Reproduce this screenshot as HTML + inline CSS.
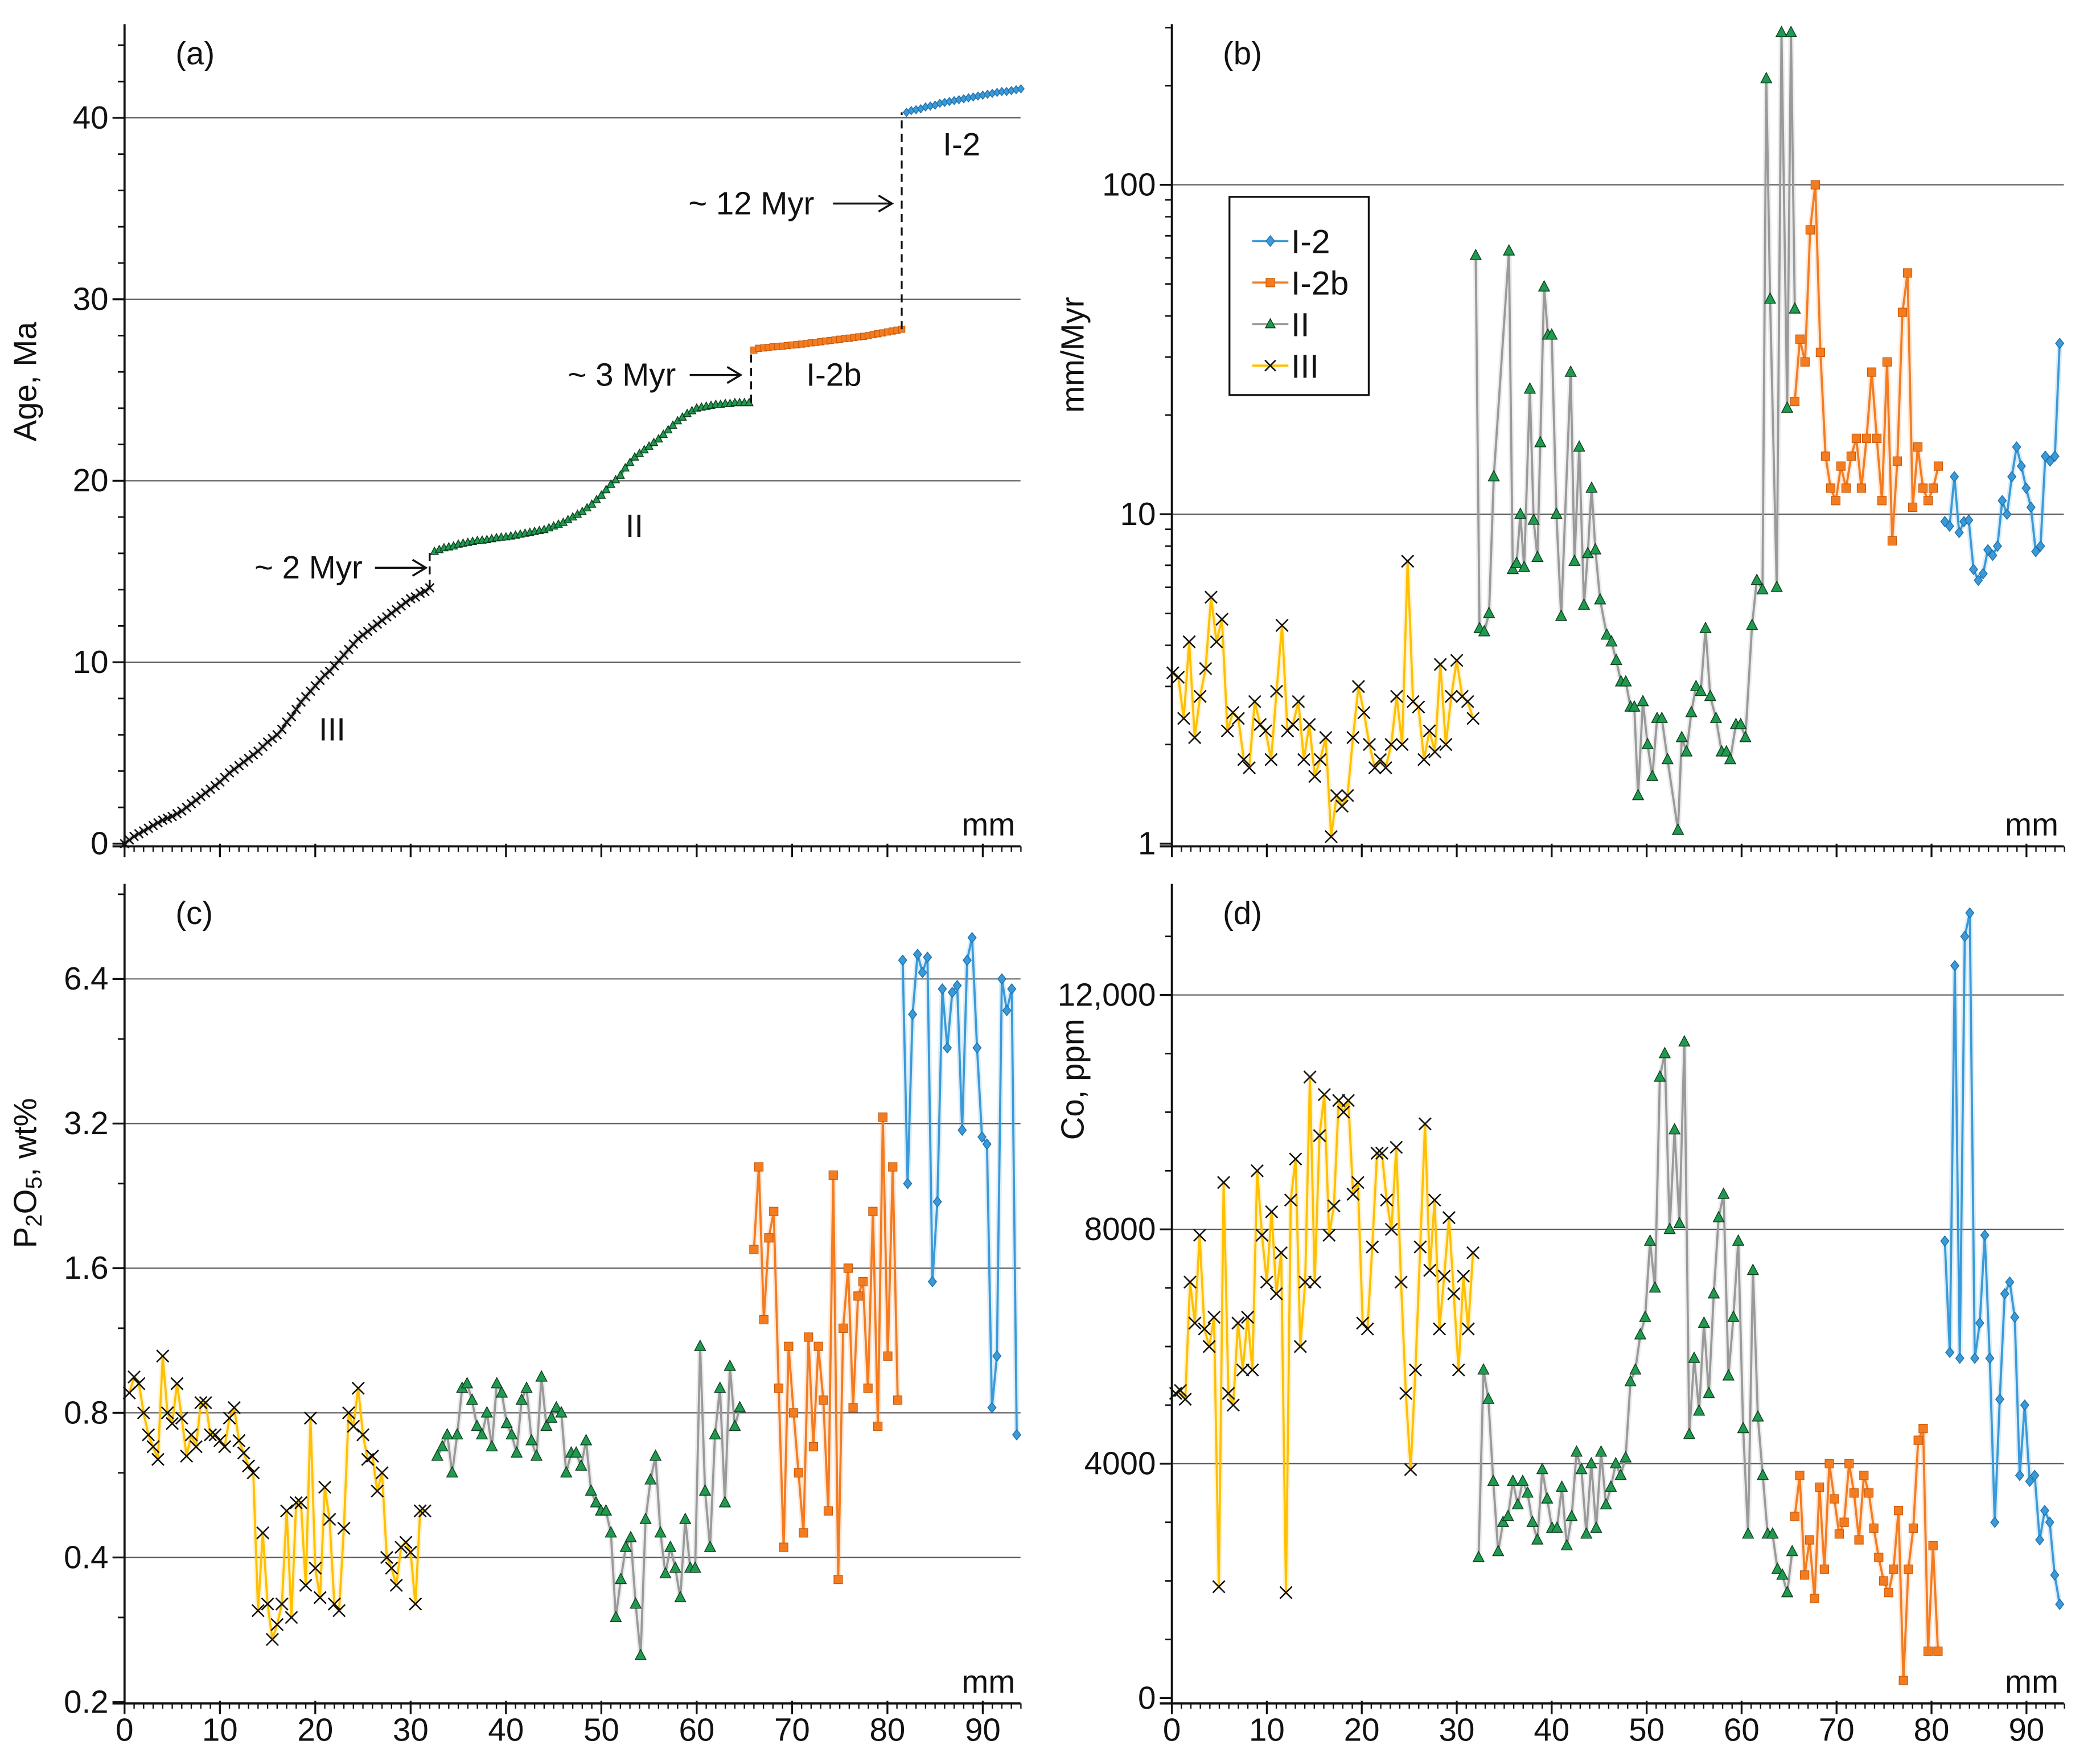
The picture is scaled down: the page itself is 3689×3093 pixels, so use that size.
<!DOCTYPE html>
<html><head><meta charset="utf-8"><style>
html,body{margin:0;padding:0;background:#fff}
svg{display:block}
text{font-family:"Liberation Sans",Arial,sans-serif;fill:#111}
</style></head><body>
<svg id="fig" xmlns="http://www.w3.org/2000/svg" width="3689" height="3093" viewBox="0 0 1568 1315" preserveAspectRatio="none"></svg>
<script>
// ---------- data ----------
// panel (a) age vs mm
const aIII_x0 = 0, aIII_dx = 0.5;
const aIII = [0,0.2,0.4,0.55,0.7,0.85,1.0,1.15,1.3,1.4,1.5,1.65,1.8,2.0,2.2,2.4,2.6,2.8,3.0,3.2,3.4,3.65,3.9,4.1,4.3,4.5,4.7,4.9,5.1,5.35,5.6,5.8,6.0,6.3,6.7,7.0,7.4,7.8,8.1,8.4,8.7,9.0,9.3,9.5,9.8,10.1,10.4,10.7,11.0,11.3,11.5,11.7,11.9,12.1,12.3,12.5,12.7,12.9,13.1,13.3,13.5,13.6,13.8,13.9,14.1];
const aII_x0 = 32.5, aII_dx = 0.5;
const aII = [16.1,16.2,16.3,16.35,16.4,16.5,16.55,16.6,16.65,16.7,16.72,16.75,16.8,16.85,16.88,16.9,16.95,17.0,17.05,17.1,17.15,17.2,17.25,17.3,17.4,17.5,17.6,17.7,17.85,18.0,18.15,18.3,18.5,18.7,18.95,19.2,19.5,19.8,20.05,20.3,20.7,21.0,21.3,21.5,21.7,21.9,22.1,22.3,22.55,22.8,23.05,23.3,23.5,23.7,23.85,24.0,24.05,24.1,24.15,24.2,24.2,24.25,24.25,24.3,24.3,24.3,24.3];
const aI2b_x0 = 66, aI2b_dx = 0.5;
const aI2b = [27.2,27.3,27.32,27.35,27.38,27.4,27.42,27.45,27.48,27.5,27.53,27.56,27.6,27.63,27.66,27.7,27.73,27.76,27.8,27.83,27.86,27.9,27.93,27.96,28.0,28.05,28.1,28.15,28.2,28.25,28.3,28.35];
const aI2_x0 = 82, aI2_dx = 0.5;
const aI2 = [40.3,40.4,40.45,40.5,40.6,40.65,40.7,40.8,40.85,40.9,40.95,41.0,41.05,41.1,41.15,41.2,41.25,41.3,41.35,41.4,41.45,41.45,41.5,41.55,41.6];
const hiatusMm = [32, 65.7, 81.5];
const hiatusFrom = [14.1, 24.3, 28.35];
const hiatusTo = [16.1, 27.2, 40.3];

// panel (b) growth rate mm/Myr
const bIII_x0 = 0.1, bIII_dx = 0.575;
const bIII = [3.3,3.2,2.4,4.1,2.1,2.8,3.4,5.6,4.1,4.8,2.2,2.5,2.4,1.8,1.7,2.7,2.3,2.2,1.8,2.9,4.6,2.2,2.3,2.7,1.8,2.3,1.6,1.8,2.1,1.05,1.4,1.3,1.4,2.1,3.0,2.5,2.0,1.7,1.8,1.7,2.0,2.8,2.0,7.2,2.7,2.6,1.8,2.2,1.9,3.5,2.0,2.8,3.6,2.8,2.7,2.4];
const bII_x = [32.0,32.4,32.9,33.4,33.9,35.5,35.9,36.3,36.7,37.1,37.7,38.1,38.5,38.8,39.2,39.6,40.0,40.5,41.0,42.0,42.4,42.9,43.4,43.8,44.2,44.6,45.1,45.8,46.3,46.8,47.3,47.8,48.3,48.7,49.1,49.6,50.1,50.6,51.1,51.6,52.2,53.3,53.7,54.2,54.7,55.2,55.7,56.2,56.7,57.3,57.9,58.4,58.8,59.4,59.9,60.4,61.1,61.6,62.2,62.6,63.0,63.7,64.2,64.8,65.2,65.6];
const bII = [61,4.5,4.4,5.0,13,63,6.8,7.1,10,6.9,24,9.6,7.4,16.5,49,35,35,10,4.9,27,7.2,16,5.3,7.6,12,7.8,5.5,4.3,4.1,3.6,3.1,3.1,2.6,2.6,1.4,2.7,2.0,1.6,2.4,2.4,1.8,1.1,2.1,1.9,2.5,3.0,2.9,4.5,2.8,2.4,1.9,1.9,1.8,2.3,2.3,2.1,4.6,6.3,5.9,210,45,6,290,21,290,42];
const bI2b_x0 = 65.6, bI2b_dx = 0.54;
const bI2b = [22,34,29,73,100,31,15,12,11,14,12,15,17,12,17,27,17,11,29,8.3,14.5,41,54,10.5,16,12,11,12,14];
const bI2_x0 = 81.4, bI2_dx = 0.504;
const bI2 = [9.5,9.2,13,8.8,9.5,9.6,6.8,6.3,6.6,7.8,7.5,8,11,10,13,16,14,12,10.5,7.7,8,15,14.5,15,33];

// panel (c) P2O5 wt%
const cIII_x0 = 0.5, cIII_dx = 0.5;
const cIII = [0.88,0.95,0.92,0.8,0.72,0.68,0.64,1.05,0.8,0.76,0.92,0.78,0.65,0.72,0.68,0.84,0.84,0.72,0.72,0.7,0.68,0.78,0.82,0.7,0.66,0.62,0.6,0.31,0.45,0.32,0.27,0.29,0.32,0.5,0.3,0.52,0.52,0.35,0.78,0.38,0.33,0.56,0.48,0.32,0.31,0.46,0.8,0.75,0.9,0.72,0.64,0.65,0.55,0.6,0.4,0.38,0.35,0.42,0.43,0.41,0.32,0.5,0.5];
const cII_x0 = 32.8, cII_dx = 0.52;
const cII = [0.65,0.68,0.72,0.6,0.72,0.9,0.92,0.85,0.75,0.72,0.8,0.68,0.92,0.88,0.76,0.72,0.66,0.85,0.9,0.7,0.65,0.95,0.75,0.78,0.82,0.8,0.6,0.66,0.66,0.62,0.7,0.55,0.52,0.5,0.5,0.45,0.3,0.36,0.42,0.44,0.32,0.25,0.48,0.58,0.65,0.45,0.37,0.42,0.38,0.33,0.48,0.38,0.38,1.1,0.55,0.42,0.72,0.9,0.52,1.0,0.75,0.82];
const cI2b_x0 = 66, cI2b_dx = 0.52;
const cI2b = [1.75,2.6,1.25,1.85,2.1,0.9,0.42,1.1,0.8,0.6,0.45,1.15,0.68,1.1,0.85,0.5,2.5,0.36,1.2,1.6,0.82,1.4,1.5,0.9,2.1,0.75,3.3,1.05,2.6,0.85];
const cI2_x0 = 81.6, cI2_dx = 0.52;
const cI2 = [7.0,2.4,5.4,7.2,6.6,7.1,1.5,2.2,6.1,4.6,6.0,6.2,3.1,7.0,7.8,4.6,3.0,2.9,0.82,1.05,6.4,5.5,6.1,0.72];

// panel (d) Co ppm
const dIII_x0 = 0.4, dIII_dx = 0.505;
const dIII = [5200,5250,5100,7100,6400,7900,6300,6000,6500,1900,8800,5200,5000,6400,5600,6500,5600,9000,7900,7100,8300,6900,7600,1800,8500,9200,6000,7100,10600,7100,9600,10300,7900,8400,10200,10000,10200,8600,8800,6400,6300,7700,9300,9300,8500,8000,9400,7100,5200,3900,5600,7700,9800,7300,8500,6300,7200,8200,6900,5600,7200,6300,7600];
const dII_x0 = 32.3, dII_dx = 0.516;
const dII = [2400,5600,5100,3700,2500,3000,3100,3700,3300,3700,3500,3000,2700,3900,3400,2900,2900,3600,2600,3100,4200,3900,2800,4000,2900,4200,3300,3600,4000,3800,4100,5400,5600,6200,6500,7800,7000,10600,11000,8000,9700,8100,11200,4500,5800,4900,6400,5200,6900,8200,8600,5500,6500,7800,4600,2800,7300,4800,3800,2800,2800,2200,2100,1800,2500];
const dI2b_x0 = 65.6, dI2b_dx = 0.52;
const dI2b = [3100,3800,2100,2700,1700,3600,2200,4000,3400,2800,3000,4000,3500,2700,3800,3500,2900,2400,2000,1800,2200,3200,300,2200,2900,4400,4600,800,2600,800];
const dI2_x0 = 81.4, dI2_dx = 0.526;
const dI2 = [7800,5900,12500,5800,13000,13400,5800,6400,7900,5800,3000,5100,6900,7100,6500,3800,5000,3700,3800,2700,3200,3000,2100,1600];

const xTickLabels = ["0","10","20","30","40","50","60","70","80","90"];
const aTicks = [0,10,20,30,40];
const bTicks = [1,10,100];
const cTicks = [0.2,0.4,0.8,1.6,3.2,6.4];
const cTickLabels = ["0.2","0.4","0.8","1.6","3.2","6.4"];
const dTicks = [0,4000,8000,12000];
const dTickLabels = ["0","4000","8000","12,000"];
const legendLabels = ["I-2","I-2b","II","III"];

// ---------- drawing ----------
const NS = "http://www.w3.org/2000/svg";
const svg = document.getElementById('fig');
function el(tag, attrs, parent){
  const e = document.createElementNS(NS, tag);
  for (const k in attrs) e.setAttribute(k, attrs[k]);
  (parent||svg).appendChild(e);
  return e;
}
function seq(x0, dx, n){ const r=[]; for(let i=0;i<n;i++) r.push(x0+i*dx); return r; }

const STY = {
  I2:  {line:"#3A9AD9", mk:"diamond", fill:"#3A9AD9", stroke:"#1f6fa8"},
  I2b: {line:"#F47C20", mk:"square", fill:"#F47C20", stroke:"#c85a0a"},
  II:  {line:"#9a9a9a", mk:"tri", fill:"#1f9a4e", stroke:"#0d3d1f"},
  III: {line:"#FFC000", mk:"x", fill:"none", stroke:"#111"}
};

function marker(g, kind, x, y, s, st){
  let m;
  if (kind==="diamond") m = el('polygon',{points:`${x},${y-s} ${x+s*0.8},${y} ${x},${y+s} ${x-s*0.8},${y}`,fill:st.fill,stroke:st.stroke,'stroke-width':0.6},g);
  else if (kind==="square") m = el('rect',{x:x-s*0.8,y:y-s*0.8,width:s*1.6,height:s*1.6,fill:st.fill,stroke:st.stroke,'stroke-width':0.5},g);
  else if (kind==="tri") m = el('polygon',{points:`${x},${y-s} ${x+s*0.9},${y+s*0.7} ${x-s*0.9},${y+s*0.7}`,fill:st.fill,stroke:st.stroke,'stroke-width':0.6},g);
  else m = el('path',{d:`M${x-s},${y-s}L${x+s},${y+s}M${x-s},${y+s}L${x+s},${y-s}`,stroke:st.stroke,'stroke-width':1.1,fill:'none'},g);
  
  
}

function series(g, xs, ys, sx, sy, st, s, name, lineCol){
  const sg = el('g',{},g);
  
  
  const pts = xs.map((x,i)=>sx(x).toFixed(2)+','+sy(ys[i]).toFixed(2)).join(' ');
  el('polyline',{points:pts,fill:'none',stroke:lineCol||st.line,'stroke-width':4,'stroke-opacity':0.18,'stroke-linejoin':'round'},sg);
  el('polyline',{points:pts,fill:'none',stroke:lineCol||st.line,'stroke-width':1.6,'stroke-linejoin':'round'},sg);
  xs.forEach((x,i)=>marker(sg, st.mk, sx(x), sy(ys[i]), s, st));
}

function panel(P){
  const g = el('g',{});
  
  
  // gridlines
  P.grid.forEach(v=>{
    const gl = el('line',{x1:P.x0,x2:P.x1,y1:P.sy(v),y2:P.sy(v),stroke:'#555','stroke-width':0.9},g);
    
    
  });
  // y axis
  const ya = el('g',{},g);
  
  
  el('line',{x1:P.x0,x2:P.x0,y1:P.yTop,y2:P.yBot,stroke:'#111','stroke-width':1.6},ya);
  P.minor.forEach(v=>el('line',{x1:P.x0-5,x2:P.x0,y1:P.sy(v),y2:P.sy(v),stroke:'#111','stroke-width':1.2},ya));
  P.ticks.forEach((v,i)=>{
    el('line',{x1:P.x0-9,x2:P.x0,y1:P.sy(v),y2:P.sy(v),stroke:'#111','stroke-width':1.4},ya);
    const t = el('text',{x:P.x0-12,y:P.sy(v)+8,'text-anchor':'end','font-size':24},ya);
    t.textContent = P.tickLabels[i];
    
    
  });
  // x axis
  const xa = el('g',{},g);
  
  
  el('line',{x1:P.x0-9,x2:P.x1,y1:P.yBot,y2:P.yBot,stroke:'#111','stroke-width':1.6},xa);
  for (let m=1;m<=94;m++){ if (m%10) el('line',{x1:P.sx(m),x2:P.sx(m),y1:P.yBot,y2:P.yBot+4,stroke:'#111','stroke-width':1},xa); }
  xTickLabels.forEach((lab,i)=>{
    const m = i*10;
    el('line',{x1:P.sx(m),x2:P.sx(m),y1:P.yBot-2,y2:P.yBot+8,stroke:'#111','stroke-width':1.4},xa);
    if (P.xLabels){
      const t = el('text',{x:P.sx(m),y:P.yBot+28,'text-anchor':'middle','font-size':24},xa);
      t.textContent = lab;
      
      
    }
  });
  const mm = el('text',{x:P.x1-4,y:P.yBot-8,'text-anchor':'end','font-size':24},g);
  mm.textContent = 'mm';
  
  
  const pl = el('text',{x:P.x0+38,y:P.yTop+30,'font-size':24,fill:'#333'},g);
  pl.textContent = P.label;
  
  
  const yt = el('text',{x:0,y:0,'text-anchor':'middle','font-size':24,transform:`translate(${P.x0-66},${(P.yTop+P.yBot)/2+P.titleShift}) rotate(-90)`},g);
  if (P.titleHTML) yt.innerHTML = P.titleHTML; else yt.textContent = P.title;
  
  
  return g;
}

// panel (a)
const sxA = m => 93 + m*7.12;
const syA = v => 630 - v*13.55;
const gA = panel({name:'panel-a-age',x0:93,x1:762,yTop:18,yBot:632,sx:sxA,sy:syA,grid:[10,20,30,40],
  ticks:aTicks,tickLabels:aTicks.map(String),minor:[2,4,6,8,12,14,16,18,22,24,26,28,32,34,36,38,42,44],
  label:'(a)',title:'Age, Ma',titleShift:-40,xLabels:false});
series(gA, seq(aIII_x0,aIII_dx,aIII.length), aIII, sxA, syA, STY.III, 3.2, 'series-III', '#222');
series(gA, seq(aII_x0,aII_dx,aII.length), aII, sxA, syA, STY.II, 3.2, 'series-II', '#1f9a4e');
series(gA, seq(aI2b_x0,aI2b_dx,aI2b.length), aI2b, sxA, syA, STY.I2b, 3, 'series-I-2b');
series(gA, seq(aI2_x0,aI2_dx,aI2.length), aI2, sxA, syA, STY.I2, 3, 'series-I-2');
hiatusMm.forEach((m,i)=>{
  const d = el('line',{x1:sxA(m),x2:sxA(m),y1:syA(hiatusFrom[i]),y2:syA(hiatusTo[i]),stroke:'#111','stroke-width':1.4,'stroke-dasharray':'6,4'},gA);
  
  
});
const annA = [
  {t:'~ 2 Myr', x:190, y:432, ax1:280, ax2:318, ay:424},
  {t:'~ 3 Myr', x:424, y:288, ax1:515, ax2:553, ay:280},
  {t:'~ 12 Myr', x:514, y:160, ax1:622, ax2:666, ay:152}
];
annA.forEach(a=>{
  const t = el('text',{x:a.x,y:a.y,'font-size':24},gA); t.textContent = a.t;
  
  
  el('line',{x1:a.ax1,x2:a.ax2,y1:a.ay,y2:a.ay,stroke:'#111','stroke-width':1.5},gA);
  el('path',{d:`M${a.ax2-10},${a.ay-6}L${a.ax2},${a.ay}L${a.ax2-10},${a.ay+6}`,fill:'none',stroke:'#111','stroke-width':1.5},gA);
});
[['III',238,553],['II',467,401],['I-2b',602,288],['I-2',704,116]].forEach(s=>{
  const t = el('text',{x:s[1],y:s[2],'font-size':24},gA); t.textContent = s[0];
  
  
});

// panel (b)
const sxB = m => 875 + m*7.09;
const syB = v => 630 - Math.log10(v)*246;
const bMinor=[]; [1,10,100].forEach(d=>{for(let k=2;k<=9;k++){ if(d*k<=300) bMinor.push(d*k);} });
const gB = panel({name:'panel-b-growth-rate',x0:875,x1:1541,yTop:18,yBot:632,sx:sxB,sy:syB,grid:[10,100],
  ticks:bTicks,tickLabels:bTicks.map(String),minor:bMinor,label:'(b)',title:'mm/Myr',titleShift:-60,xLabels:false});
series(gB, seq(bIII_x0,bIII_dx,bIII.length), bIII, sxB, syB, STY.III, 4.5, 'series-III');
series(gB, bII_x, bII, sxB, syB, STY.II, 4.5, 'series-II');
series(gB, seq(bI2b_x0,bI2b_dx,bI2b.length), bI2b, sxB, syB, STY.I2b, 4, 'series-I-2b');
series(gB, seq(bI2_x0,bI2_dx,bI2.length), bI2, sxB, syB, STY.I2, 3.8, 'series-I-2');
// legend
const lg = el('g',{},gB);


el('rect',{x:918,y:147,width:104,height:148,fill:'#fff',stroke:'#111','stroke-width':1.4},lg);
const lgSty=[STY.I2,STY.I2b,STY.II,STY.III];
legendLabels.forEach((lab,i)=>{
  const y = 180+i*31;
  const e = el('g',{},lg);
  
  
  el('line',{x1:935,x2:962,y1:y,y2:y,stroke:lgSty[i].line,'stroke-width':1.6},e);
  marker(e, lgSty[i].mk, 948.5, y, 4, lgSty[i]);
  const t = el('text',{x:964,y:y+9,'font-size':25},e); t.textContent = lab;
});

// panel (c)
const sxC = m => 93 + m*7.12;
const syC = v => 1271 - Math.log2(v/0.2)*108;
const gC = panel({name:'panel-c-p2o5',x0:93,x1:762,yTop:660,yBot:1272,sx:sxC,sy:syC,grid:[0.4,0.8,1.6,3.2,6.4],
  ticks:cTicks,tickLabels:cTickLabels,minor:[0.3,0.6,1.2,2.4,4.8,9.6],label:'(c)',title:'',
  titleHTML:'P<tspan font-size="17" dy="4">2</tspan><tspan dy="-4">O</tspan><tspan font-size="17" dy="4">5</tspan><tspan dy="-4">, wt%</tspan>',titleShift:-90,xLabels:true});
series(gC, seq(cIII_x0,cIII_dx,cIII.length), cIII, sxC, syC, STY.III, 4.5, 'series-III');
series(gC, seq(cII_x0,cII_dx,cII.length), cII, sxC, syC, STY.II, 4.5, 'series-II');
series(gC, seq(cI2b_x0,cI2b_dx,cI2b.length), cI2b, sxC, syC, STY.I2b, 4, 'series-I-2b');
series(gC, seq(cI2_x0,cI2_dx,cI2.length), cI2, sxC, syC, STY.I2, 3.8, 'series-I-2');

// panel (d)
const sxD = m => 875 + m*7.09;
const syD = v => 1268 - v*0.04375;
const dMinor=[]; for(let v=1000; v<=13000; v+=1000){ if(v%4000) dMinor.push(v); }
const gD = panel({name:'panel-d-cobalt',x0:875,x1:1541,yTop:660,yBot:1272,sx:sxD,sy:syD,grid:[4000,8000,12000],
  ticks:dTicks,tickLabels:dTickLabels,minor:dMinor,label:'(d)',title:'Co, ppm',titleShift:-160,xLabels:true});
series(gD, seq(dIII_x0,dIII_dx,dIII.length), dIII, sxD, syD, STY.III, 4.5, 'series-III');
series(gD, seq(dII_x0,dII_dx,dII.length), dII, sxD, syD, STY.II, 4.5, 'series-II');
series(gD, seq(dI2b_x0,dI2b_dx,dI2b.length), dI2b, sxD, syD, STY.I2b, 4, 'series-I-2b');
series(gD, seq(dI2_x0,dI2_dx,dI2.length), dI2, sxD, syD, STY.I2, 3.8, 'series-I-2');
</script>
</body></html>
